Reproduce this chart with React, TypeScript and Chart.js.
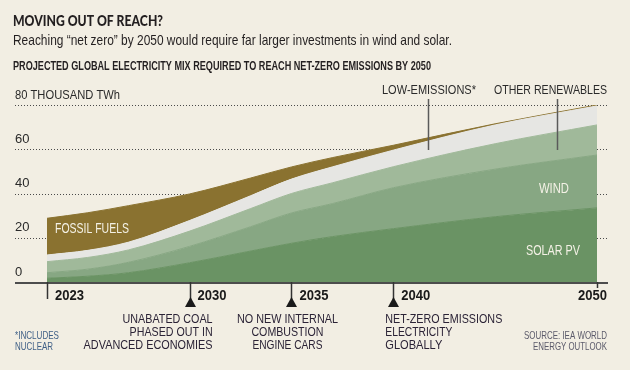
import React, { useEffect, useRef } from "react";
import { Chart, registerables } from "chart.js";

Chart.register(...registerables);

const years = [2023, 2025, 2027, 2030, 2033, 2035, 2037, 2040, 2045, 2050];
const solarPV = [1.7, 2.6, 4.2, 8.7, 14, 17.5, 20.5, 24.1, 29.5, 33.5];
const wind = [2.5, 3.2, 4.7, 7.4, 11, 13.7, 14.9, 18.5, 21.5, 23.9];
const otherRenewables = [5.0, 5.3, 5.6, 6.9, 8.2, 8.8, 9.4, 9.5, 11.5, 13.6];
const lowEmissions = [3.0, 3.2, 3.5, 4.8, 5.8, 6.5, 7.2, 7.5, 8.5, 8.6];
const fossilFuels = [16.6, 17.0, 16.5, 12, 8, 5.5, 4.2, 2.2, 0.5, 0.4];

const yTicks = [0, 20, 40, 60, 80];
const yTickLabels = ["0", "20", "40", "60", "80 THOUSAND TWh"];
const xTickYears = [2023, 2030, 2035, 2040, 2050];
const milestoneYears = [2030, 2035, 2040];

const BG = "#F2EEE3";
const NARROW = "'Liberation Sans Narrow', 'Liberation Sans', Arial, sans-serif";

type Align = "left" | "right" | "center";

function txt(
  ctx: CanvasRenderingContext2D,
  s: string,
  x: number,
  y: number,
  font: string,
  color: string,
  align: Align = "left",
  width?: number
) {
  ctx.save();
  ctx.font = font;
  ctx.fillStyle = color;
  ctx.textBaseline = "middle";
  ctx.textAlign = "left";
  const w = ctx.measureText(s).width;
  const tw = width ?? w;
  const sx = tw / w;
  const left = align === "left" ? x : align === "right" ? x - tw : x - tw / 2;
  ctx.translate(left, y);
  ctx.scale(sx, 1);
  ctx.fillText(s, 0, 0);
  ctx.restore();
}

const decor = {
  id: "decor",
  beforeDraw(chart: any) {
    const ctx: CanvasRenderingContext2D = chart.ctx;
    const ys = chart.scales.y;
    // header
    txt(ctx, "MOVING OUT OF REACH?", 13, 21, "900 15px Lato, 'Liberation Sans', sans-serif", "#231F20", "left", 150);
    txt(
      ctx,
      "Reaching \u201Cnet zero\u201D by 2050 would require far larger investments in wind and solar.",
      13,
      40.5,
      `15px ${NARROW}`,
      "#231F20",
      "left",
      439
    );
    txt(
      ctx,
      "PROJECTED GLOBAL ELECTRICITY MIX REQUIRED TO REACH NET-ZERO EMISSIONS BY 2050",
      13,
      66,
      `bold 13px ${NARROW}`,
      "#231F20",
      "left",
      418
    );
    // gridlines
    ctx.save();
    ctx.strokeStyle = "#4a4a4a";
    ctx.lineWidth = 1;
    ctx.setLineDash([1, 2]);
    yTicks.forEach((v) => {
      if (v === 0) return;
      const py = Math.round(ys.getPixelForValue(v)) + 0.5;
      ctx.beginPath();
      ctx.moveTo(15, py);
      ctx.lineTo(608, py);
      ctx.stroke();
    });
    ctx.restore();
    yTicks.forEach((v, i) => {
      const py = ys.getPixelForValue(v) - 10;
      const label = yTickLabels[i];
      if (v === 80) txt(ctx, label, 15, py, `13px ${NARROW}`, "#2a2a2a", "left", 105);
      else txt(ctx, label, 15, py, `13px ${NARROW}`, "#2a2a2a", "left");
    });
  },
  afterDraw(chart: any) {
    const ctx: CanvasRenderingContext2D = chart.ctx;
    const xs = chart.scales.x;
    const ys = chart.scales.y;
    const base = ys.getPixelForValue(0);
    // axis line
    ctx.save();
    ctx.strokeStyle = "#4d4d4d";
    ctx.lineWidth = 2;
    ctx.beginPath();
    ctx.moveTo(15, base + 1);
    ctx.lineTo(608, base + 1);
    ctx.stroke();
    // ticks
    ctx.strokeStyle = "#333";
    ctx.lineWidth = 1.5;
    xTickYears.forEach((yr) => {
      const px = Math.round(xs.getPixelForValue(yr)) + 0.5;
      const len = yr === 2050 ? 6 : 17;
      ctx.beginPath();
      ctx.moveTo(px, base);
      ctx.lineTo(px, base + len);
      ctx.stroke();
    });
    // triangles
    ctx.fillStyle = "#1a1a1a";
    milestoneYears.forEach((yr) => {
      const px = Math.round(xs.getPixelForValue(yr)) + 0.5;
      ctx.beginPath();
      ctx.moveTo(px, base + 15);
      ctx.lineTo(px + 5.5, base + 25);
      ctx.lineTo(px - 5.5, base + 25);
      ctx.closePath();
      ctx.fill();
    });
    // leader lines
    ctx.strokeStyle = "#5a5a5a";
    ctx.lineWidth = 1.5;
    [[2041.7, 99, 150], [2048.05, 99, 150]].forEach(([yr, y0, y1]) => {
      const px = Math.round(xs.getPixelForValue(yr)) + 0.5;
      ctx.beginPath();
      ctx.moveTo(px, y0);
      ctx.lineTo(px, y1);
      ctx.stroke();
    });
    ctx.restore();

    // year labels
    const yrFont = `bold 14px ${NARROW}`;
    xTickYears.forEach((yr) => {
      const px = xs.getPixelForValue(yr);
      if (yr === 2050) txt(ctx, String(yr), 607, base + 14, yrFont, "#1a1a1a", "right", 29);
      else txt(ctx, String(yr), px + 8, base + 14, yrFont, "#1a1a1a", "left", 29);
    });

    // labels on top
    const lblFont = `13px ${NARROW}`;
    txt(ctx, "LOW-EMISSIONS*", 429, 90, lblFont, "#2a2a2a", "center", 94);
    txt(ctx, "OTHER RENEWABLES", 550.5, 90, lblFont, "#2a2a2a", "center", 113);

    // area labels
    const inFont = `14px ${NARROW}`;
    const inCol = "#F4F1E6";
    txt(ctx, "FOSSIL FUELS", 55, 229, inFont, inCol, "left", 74);
    txt(ctx, "WIND", 554, 189, inFont, inCol, "center", 30);
    txt(ctx, "SOLAR PV", 553, 251, inFont, inCol, "center", 54);

    // milestone annotations
    const aFont = `13px ${NARROW}`;
    const aCol = "#2B2336";
    const x2030 = xs.getPixelForValue(2030);
    const x2035 = xs.getPixelForValue(2035);
    const x2040 = xs.getPixelForValue(2040);
    txt(ctx, "UNABATED COAL", x2030 + 23, 319, aFont, aCol, "right", 90);
    txt(ctx, "PHASED OUT IN", x2030 + 23, 332, aFont, aCol, "right", 83);
    txt(ctx, "ADVANCED ECONOMIES", x2030 + 23, 345, aFont, aCol, "right", 129);
    txt(ctx, "NO NEW INTERNAL", x2035 - 4, 319, aFont, aCol, "center", 101);
    txt(ctx, "COMBUSTION", x2035 - 4, 332, aFont, aCol, "center", 72);
    txt(ctx, "ENGINE CARS", x2035 - 4, 345, aFont, aCol, "center", 70);
    txt(ctx, "NET-ZERO EMISSIONS", x2040 - 8, 319, aFont, aCol, "left", 117);
    txt(ctx, "ELECTRICITY", x2040 - 8, 332, aFont, aCol, "left", 67);
    txt(ctx, "GLOBALLY", x2040 - 8, 345, aFont, aCol, "left", 57);

    // footnotes
    const fFont = `11px ${NARROW}`;
    txt(ctx, "*INCLUDES", 15, 336, fFont, "#3F5F86", "left", 44);
    txt(ctx, "NUCLEAR", 15, 346.5, fFont, "#3F5F86", "left", 38);
    txt(ctx, "SOURCE: IEA WORLD", 607, 336, fFont, "#5B5A6A", "right", 83);
    txt(ctx, "ENERGY OUTLOOK", 607, 346.5, fFont, "#5B5A6A", "right", 74);
  },
};

function series(vals: number[]) {
  return years.map((yr, i) => ({ x: yr, y: vals[i] }));
}

export default function App() {
  const ref = useRef<HTMLCanvasElement | null>(null);
  useEffect(() => {
    if (!ref.current) return;
    const mk = (label: string, vals: number[], color: string, fill: any) => ({
      label,
      data: series(vals),
      backgroundColor: color,
      borderColor: color,
      borderWidth: 1,
      pointRadius: 0,
      fill,
      cubicInterpolationMode: "monotone" as const,
    });
    const chart = new Chart(ref.current, {
      type: "line",
      data: {
        datasets: [
          mk("Solar PV", solarPV, "#6A9364", "origin"),
          mk("Wind", wind, "#87A783", "-1"),
          mk("Other renewables", otherRenewables, "#A0B99A", "-1"),
          mk("Low-emissions", lowEmissions, "#E6E6E3", "-1"),
          mk("Fossil fuels", fossilFuels, "#8A7230", "-1"),
        ],
      },
      options: {
        responsive: false,
        animation: false,
        events: [],
        layout: { padding: { left: 47, right: 33, top: 105, bottom: 88 } },
        plugins: { legend: { display: false }, tooltip: { enabled: false } },
        scales: {
          x: { type: "linear", min: 2023, max: 2050, display: false },
          y: { stacked: true, min: 0, max: 80, display: false },
        },
      },
      plugins: [decor],
    });
    return () => chart.destroy();
  }, []);
  return (
    <div style={{ position: "absolute", left: 0, top: 0, width: 630, height: 370, background: BG }}>
      <canvas ref={ref} width={630} height={370} style={{ display: "block" }} />
    </div>
  );
}
